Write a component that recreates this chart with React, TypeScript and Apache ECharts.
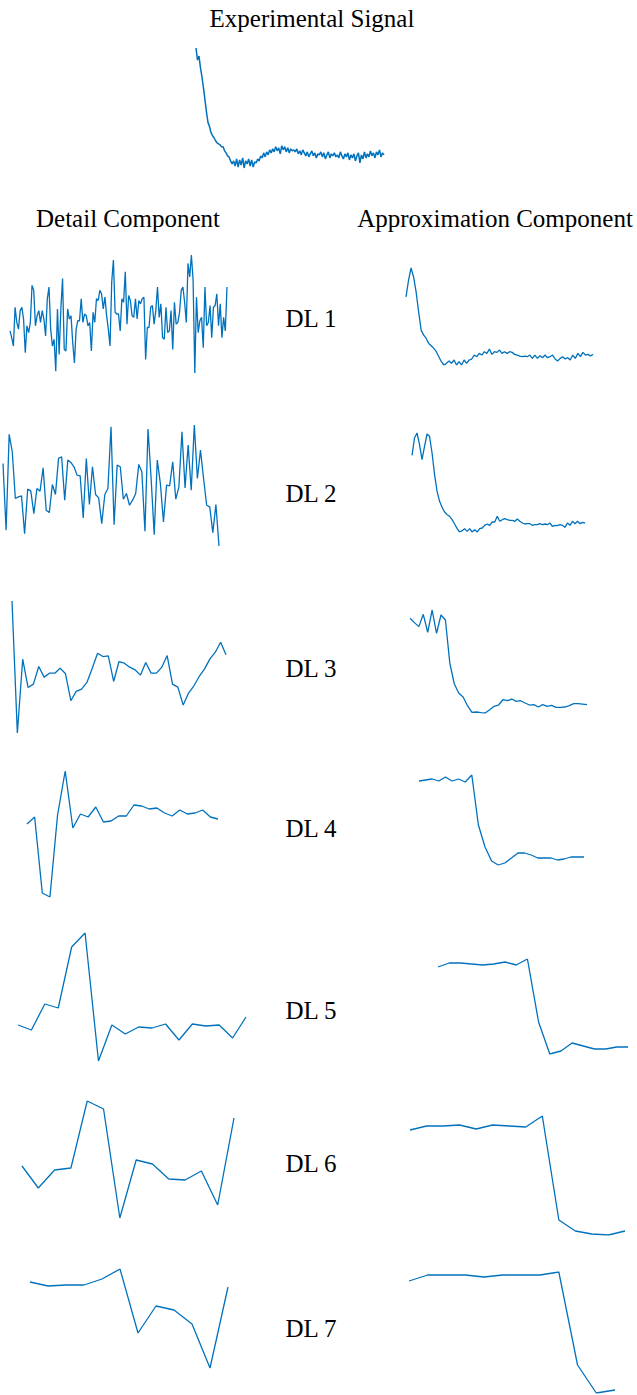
import React, { useEffect, useRef } from "react";
import * as echarts from "echarts";

// Measured signal and its wavelet decomposition, levels 1..7
const signal = [
  120, 108, 112, 100, 91, 80, 68, 56, 46, 42, 36, 33, 31, 28, 26, 25, 24, 22, 22, 18, 16, 13, 12, 8, 5,
  8, 3, 10, 2, 9, 4, 11, 1, 8, 5, 10, 3, 9, 2, 7, 6,
  10, 8, 13, 11, 16, 12, 17, 14, 19,
  16, 20, 17, 22, 18, 21, 15, 23, 19, 22, 17, 21, 16, 20, 18, 19,
  17, 20, 15, 18, 14, 19, 16, 13, 17, 12,
  15, 18, 13, 16, 11, 15, 14, 17, 12, 16,
  10, 14, 17, 11, 15, 13, 16, 12, 14, 11,
  17, 13, 10, 15, 12, 16, 9, 14, 11, 15,
  8, 13, 16, 6, 14, 10, 17, 11, 15, 12,
  18, 13, 16, 11, 17, 14, 19, 12, 16, 14,
];

const detail1 = [
  125, 105, 80, 195, 150, 130, 185, 195, 160, 60, 140, 120, 150, 260, 245, 140, 170, 185, 150, 185,
  160, 110, 220, 255, 130, 80, 100, 5, 190, 55, 190, 280, 70, 65, 190, 160, 170, 90, 30, 130,
  155, 155, 220, 150, 175, 170, 140, 150, 65, 180, 150, 220, 215, 245, 235, 190, 225, 170, 130, 80,
  270, 335, 180, 175, 175, 125, 220, 210, 300, 145, 230, 215, 170, 165, 220, 160, 215, 205, 220, 225,
  40, 135, 135, 195, 200, 145, 185, 255, 165, 205, 105, 100, 195, 120, 125, 185, 70, 210, 145, 150,
  180, 245, 255, 210, 150, 325, 285, 350, 275, 0, 225, 120, 155, 165, 75, 255, 140, 150, 200, 105,
  195, 200, 235, 140, 205, 105, 165, 125, 255,
];
const approx1 = [
  215, 265, 302, 275, 230, 170, 115, 100, 90, 75, 68, 60, 50, 35, 20, 10, 15, 22, 15, 25,
  10, 20, 10, 25, 15, 25, 28, 40, 35, 45, 40, 50, 45, 58, 42, 50, 48, 55, 45, 50,
  45, 50, 48, 42, 40, 37, 35, 37, 35, 40, 30, 40, 30, 38, 32, 40, 32, 35, 40, 28,
  22, 30, 35, 28, 32, 25, 40, 30, 45, 35, 48, 40, 42, 37, 42,
];

const detail2 = [
  250, 50, 337, 285, 145, 150, 153, 40, 173, 168, 100, 175, 167, 237, 110, 103, 187, 157, 265, 270,
  140, 260, 253, 240, 215, 213, 87, 265, 127, 240, 157, 147, 70, 157, 175, 360, 67, 245, 240, 143,
  160, 125, 140, 160, 247, 225, 47, 353, 205, 37, 260, 190, 75, 185, 183, 255, 143, 180, 345, 177,
  305, 170, 365, 205, 290, 205, 125, 120, 43, 127, 3,
];
const approx2 = [
  238, 290, 305, 270, 225, 265, 302, 295, 245, 180, 130, 100, 82, 68, 60, 55, 45, 32, 18, 8,
  12, 18, 10, 18, 8, 15, 8, 18, 20, 28, 32, 28, 38, 38, 55, 40, 45, 48, 45, 43,
  43, 40, 47, 40, 35, 32, 33, 33, 28, 30, 30, 33, 30, 32, 30, 35, 25, 28, 27, 30,
  28, 22, 35, 28, 40, 33, 40, 33, 37, 35,
];

const detail3 = [
  397, 0, 222, 137, 147, 200, 168, 180, 180, 195, 178, 97, 125, 132, 152, 195, 240, 230, 232, 155,
  215, 210, 198, 190, 174, 212, 180, 180, 198, 233, 147, 138, 84, 120, 142, 170, 193, 223, 243, 273, 235,
];
const approx3 = [
  290, 277, 265, 302, 248, 315, 245, 300, 285, 155, 93, 65, 53, 27, 7, 8, 6, 5, 15, 25,
  29, 45, 42, 47, 40, 42, 35, 29, 30, 23, 30, 25, 28, 22, 22, 23, 27, 33, 33, 32, 30,
];

const detail4 = [76, 83, 7, 3, 85, 129, 72, 86, 83, 93, 78, 79, 84, 84, 95, 94, 91, 92, 87, 84, 90, 86, 87, 90, 83, 81];
const approx4 = [119, 120, 121, 119, 123, 119, 121, 118, 125, 75, 53, 39, 35, 37, 42, 47, 47, 45, 42, 42, 42, 40, 41, 43, 43, 43];

const detail5 = [40, 35, 61, 57, 118, 132, 4, 40, 31, 38, 37, 41, 25, 41, 39, 40, 27, 48];
const approx5 = [93, 97, 97, 96, 95, 96, 98, 95, 101, 38, 6, 9, 17, 14, 11, 11, 13, 13];

const detail6 = [54, 32, 50, 52, 119, 111, 2, 60, 56, 41, 40, 49, 15, 102];
const approx6 = [110, 114, 114, 115, 111, 115, 114, 113, 124, 20, 9, 6, 5, 9];

const detail7 = [88, 84, 85, 85, 91, 101, 37, 64, 60, 46, 2, 83];
const approx7 = [119, 125, 125, 125, 123, 125, 125, 125, 128, 35, 7, 10];

const levelLabels = ["DL 1", "DL 2", "DL 3", "DL 4", "DL 5", "DL 6", "DL 7"];
const titleText = "Experimental Signal";
const detailHeader = "Detail Component";
const approxHeader = "Approximation Component";

// Plot boxes on the page (left, top, width, height)
const panels: { data: number[]; box: [number, number, number, number]; width: number }[] = [
  { data: signal, box: [196, 48, 188, 120], width: 1.5 },
  { data: detail1, box: [10, 255, 217, 118], width: 1.3 },
  { data: approx1, box: [406, 268, 187, 97], width: 1.3 },
  { data: detail2, box: [3, 425, 216, 121], width: 1.3 },
  { data: approx2, box: [412, 433, 173, 99], width: 1.3 },
  { data: detail3, box: [12, 601, 214, 132], width: 1.3 },
  { data: approx3, box: [410, 610, 177, 103], width: 1.3 },
  { data: detail4, box: [27, 771, 191, 126], width: 1.3 },
  { data: approx4, box: [419, 775, 165, 90], width: 1.3 },
  { data: detail5, box: [18, 933, 228, 128], width: 1.3 },
  { data: approx5, box: [438, 959, 190, 95], width: 1.3 },
  { data: detail6, box: [22, 1101, 212, 117], width: 1.3 },
  { data: approx6, box: [410, 1116, 215, 119], width: 1.3 },
  { data: detail7, box: [30, 1269, 198, 99], width: 1.3 },
  { data: approx7, box: [409, 1272, 206, 121], width: 1.3 },
];

const labelY = [318, 493, 668, 828, 1010, 1163, 1328];
const LINE_COLOR = "#0072BD";
const FONT = "'Liberation Serif', 'Times New Roman', serif";

export default function App() {
  const ref = useRef<HTMLDivElement>(null);

  useEffect(() => {
    if (!ref.current) return;
    const chart = echarts.init(ref.current, undefined, { renderer: "svg" });

    const grid = panels.map((p) => ({
      left: p.box[0],
      top: p.box[1],
      width: p.box[2],
      height: p.box[3],
      containLabel: false,
    }));
    const xAxis = panels.map((p, i) => ({
      type: "value" as const,
      gridIndex: i,
      min: 0,
      max: p.data.length - 1,
      show: false,
    }));
    const yAxis = panels.map((p, i) => ({
      type: "value" as const,
      gridIndex: i,
      min: Math.min(...p.data),
      max: Math.max(...p.data),
      show: false,
    }));
    const series = panels.map((p, i) => ({
      type: "line" as const,
      xAxisIndex: i,
      yAxisIndex: i,
      data: p.data.map((v, j) => [j, v]),
      showSymbol: false,
      symbol: "none",
      lineStyle: { color: LINE_COLOR, width: p.width },
      silent: true,
    }));

    const textStyle = (text: string, x: number, y: number) => ({
      type: "text" as const,
      x,
      y,
      style: {
        text,
        fill: "#000",
        font: `25px ${FONT}`,
        textAlign: "center",
        textVerticalAlign: "middle",
      },
    });

    const graphic = [
      textStyle(titleText, 312, 18),
      textStyle(detailHeader, 128, 218),
      textStyle(approxHeader, 495, 218),
      ...levelLabels.map((t, i) => textStyle(t, 311, labelY[i])),
    ];

    chart.setOption({
      animation: false,
      backgroundColor: "#fff",
      grid,
      xAxis,
      yAxis,
      series,
      graphic,
    });

    return () => chart.dispose();
  }, []);

  return (
    <div
      ref={ref}
      style={{ position: "absolute", left: 0, top: 0, width: 637, height: 1395 }}
    />
  );
}
